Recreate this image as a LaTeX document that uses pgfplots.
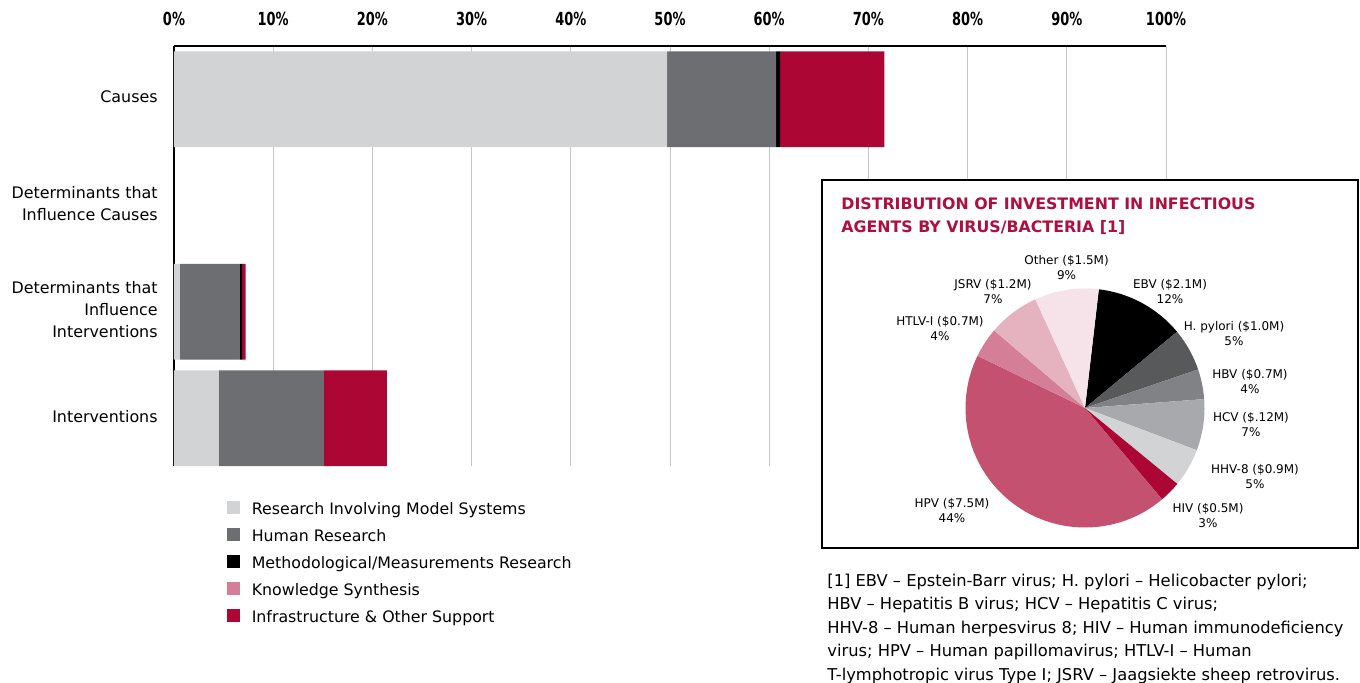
\documentclass[border=0pt]{standalone}
\usepackage{fontspec}
\setmainfont{DejaVu Sans}
\newfontfamily\tickfont[FakeStretch=0.72]{DejaVu Sans}
\usepackage{pgfplots}
\pgfplotsset{compat=1.18}

\definecolor{cModel}{HTML}{D1D3D4}
\definecolor{cHuman}{HTML}{6D6E71}
\definecolor{cKnow}{HTML}{D47F97}
\definecolor{cInfra}{HTML}{AC0634}
\definecolor{gridgray}{HTML}{C4C5C7}
\definecolor{cTitle}{HTML}{AE0F3E}
% pie slices
\definecolor{pEBV}{HTML}{000000}
\definecolor{pHP}{HTML}{58595B}
\definecolor{pHBV}{HTML}{808285}
\definecolor{pHCV}{HTML}{A7A9AC}
\definecolor{pHHV}{HTML}{D1D3D4}
\definecolor{pHIV}{HTML}{AC0634}
\definecolor{pHPV}{HTML}{C4516F}
\definecolor{pHTLV}{HTML}{D47F97}
\definecolor{pJSRV}{HTML}{E5B2C0}
\definecolor{pOther}{HTML}{F6E3E9}

\begin{document}
\begin{tikzpicture}
\path[use as bounding box] (0pt,0pt) rectangle (680pt,-341pt);

\begin{axis}[
    at={(87pt,-233pt)}, anchor=south west,
    width=496pt, height=210pt, scale only axis,
    xbar stacked, bar width=0.9,
    xmin=0, xmax=100, ymin=-0.5, ymax=3.45, y dir=reverse,
    axis x line=top, axis y line=left,
    axis line style={-, black, line width=0.7pt},
    major tick length=0pt,
    xtick={0,10,...,100},
    xticklabel={\pgfmathprintnumber{\tick}\%},
    /pgf/number format/assume math mode=true,
    xticklabel style={font=\tickfont\bfseries\fontsize{9}{10}\selectfont, inner sep=0pt, yshift=10pt},
    ytick={0,1,2,3},
    yticklabels={Causes, {Determinants that\\Influence Causes}, {Determinants that\\Influence\\Interventions}, Interventions},
    yticklabel style={align=right, font=\fontsize{7.95}{11}\selectfont, inner sep=0pt, xshift=-8pt, yshift=1pt},
    xmajorgrids, grid style={line width=0.5pt, color=gridgray},
    legend style={at={(0.047,-0.0715)}, anchor=north west, draw=none, fill=none,
        font=\fontsize{7.9}{9}\selectfont, row sep=4.5pt,
        nodes={inner sep=0pt, text height=7pt, text depth=2pt}},
    legend cell align=left,
    legend image code/.code={\fill[#1,draw=none] (0pt,-2.1pt) rectangle (6.5pt,4.4pt); \path (12.4pt,0pt);},
]
\addplot[fill=cModel, draw=none] coordinates {(49.7,0) (0,1) (0.6,2) (4.5,3)};
\addplot[fill=cHuman, draw=none] coordinates {(11.0,0) (0,1) (6.05,2) (10.6,3)};
\addplot[fill=black, draw=none] coordinates {(0.4,0) (0,1) (0.22,2) (0,3)};
\addplot[fill=cKnow, draw=none] coordinates {(0,0) (0,1) (0,2) (0,3)};
\addplot[fill=cInfra, draw=none] coordinates {(10.5,0) (0,1) (0.35,2) (6.35,3)};
\legend{Research Involving Model Systems, Human Research, Methodological/Measurements Research, Knowledge Synthesis, Infrastructure \& Other Support}
\end{axis}

% inset frame
\begin{scope}[x=0.5pt, y=-0.5pt]
\fill[white] (822,180) rectangle (1358,548);
\draw[line width=0.7pt] (822,180) rectangle (1358,548);
\end{scope}

% pie of investment ($M)
\begin{axis}[
    at={(542.5pt,-204pt)}, anchor=center,
    width=119.5pt, height=119.5pt, scale only axis,
    xmin=-1, xmax=1, ymin=-1, ymax=1, hide axis,
]
\pgfplotsextra{
  \gdef\pieA{83.35}
  \foreach \v/\c in {2.1/pEBV, 1.0/pHP, 0.7/pHBV, 1.2/pHCV, 0.9/pHHV, 0.5/pHIV, 7.5/pHPV, 0.7/pHTLV, 1.2/pJSRV, 1.5/pOther} {
    \pgfmathsetmacro\pieB{\pieA - \v/17.3*360}
    \fill[\c] (axis cs:0,0) -- (axis cs:{cos(\pieA)},{sin(\pieA)}) arc[start angle=\pieA, end angle=\pieB, radius=1] -- cycle;
    \xdef\pieA{\pieB}
  }
}
\end{axis}

\begin{scope}[x=0.5pt, y=-0.5pt]
\node[anchor=base west, inner sep=0pt, text=cTitle, font=\bfseries\fontsize{7.9}{9}\selectfont] at (841,209) {DISTRIBUTION OF INVESTMENT IN INFECTIOUS};
\node[anchor=base west, inner sep=0pt, text=cTitle, font=\bfseries\fontsize{7.9}{9}\selectfont] at (841,232.3) {AGENTS BY VIRUS/BACTERIA [1]};

\begin{scope}[every node/.style={align=center, inner sep=0pt, font=\fontsize{6}{7.5}\selectfont}]
\node at (1066.6,268) {Other (\$1.5M)\\9\%};
\node at (993,291.5) {JSRV (\$1.2M)\\7\%};
\node at (940,329) {HTLV-I (\$0.7M)\\4\%};
\node at (1170,291.5) {EBV (\$2.1M)\\12\%};
\node at (1234,334) {H. pylori (\$1.0M)\\5\%};
\node at (1250,381.5) {HBV (\$0.7M)\\4\%};
\node at (1251,425) {HCV (\$.12M)\\7\%};
\node at (1255,477) {HHV-8 (\$0.9M)\\5\%};
\node at (1208,516) {HIV (\$0.5M)\\3\%};
\node at (952,511) {HPV (\$7.5M)\\44\%};
\end{scope}

\begin{scope}[every node/.style={anchor=base west, inner sep=0pt, font=\fontsize{8.15}{10}\selectfont}]
\node at (827,586) {[1] EBV – Epstein-Barr virus; H. pylori – Helicobacter pylori;};
\node at (827,609.5) {HBV – Hepatitis B virus; HCV – Hepatitis C virus;};
\node at (827,633) {HHV-8 – Human herpesvirus 8; HIV – Human immunodeficiency};
\node at (827,656.5) {virus; HPV – Human papillomavirus; HTLV-I – Human};
\node at (827,680) {T-lymphotropic virus Type I; JSRV – Jaagsiekte sheep retrovirus.};
\end{scope}
\end{scope}
\end{tikzpicture}
\end{document}
